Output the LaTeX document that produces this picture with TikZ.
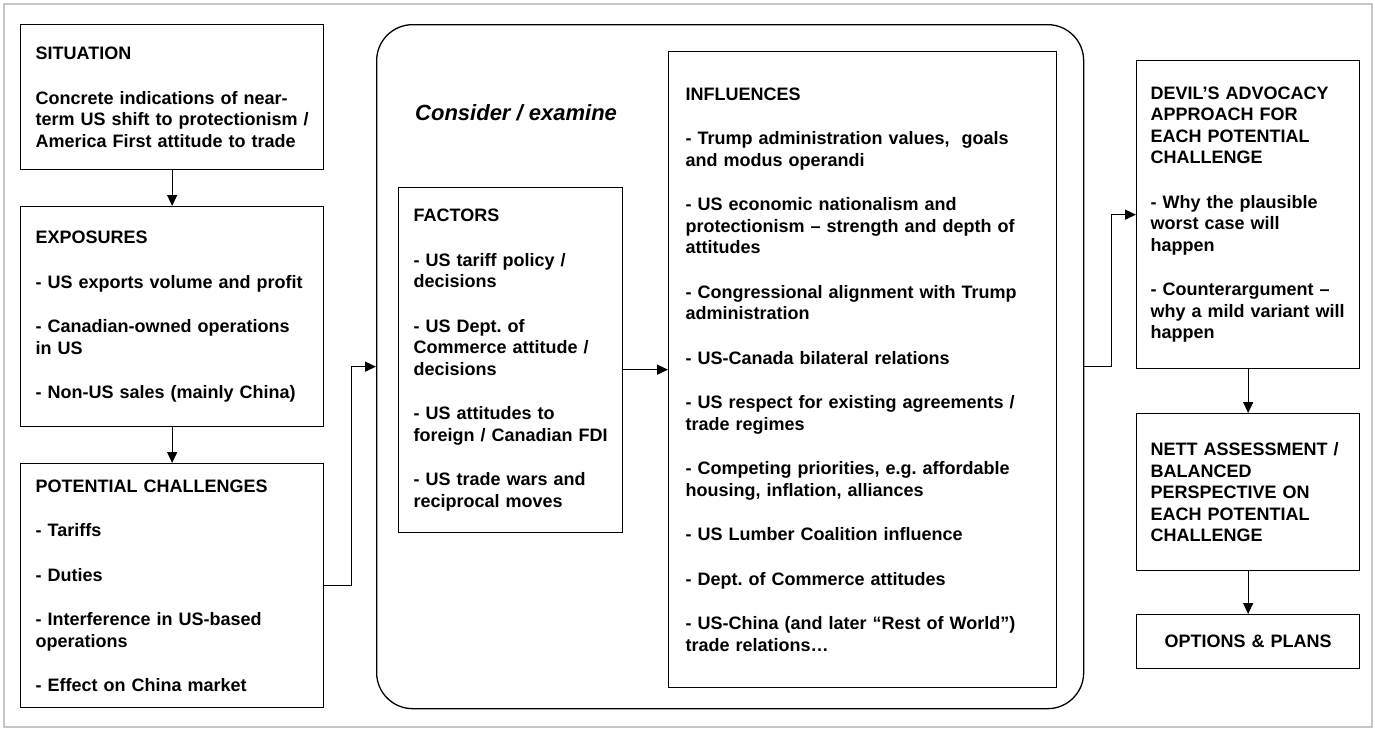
\documentclass[tikz,border=0pt]{standalone}
\usepackage{fontspec}
\setmainfont{Liberation Sans}
\usetikzlibrary{arrows.meta}
\frenchspacing
\begin{document}
\begin{tikzpicture}[x=1pt,y=-1pt,
  box/.style={draw, line width=1.3pt, rectangle, anchor=north west, align=left,
    inner xsep=14pt, inner ysep=0pt,
    font=\frenchspacing\bfseries\fontsize{18}{21.5}\selectfont},
  arr/.style={line width=1.3pt, -{Triangle[length=11pt,width=10pt]}}]
\useasboundingbox (0,0) rectangle (1375,728);
\draw[line width=1.5pt, black!22] (4,4) rectangle (1372,727);

\node[box, minimum height=145pt, text width=281pt, inner xsep=11pt] (sit) at (20,24)
 {\hspace*{4pt}SITUATION\\[23pt]
  \hspace*{4pt}Concrete indications of near-\\
  \hspace*{4pt}term US shift to protectionism /\\
  \hspace*{4pt}America First attitude to trade};

\node[box, minimum height=220pt, text width=281pt, inner xsep=11pt] (exp) at (20,206)
 {\hspace*{4pt}EXPOSURES\\[23pt]
  \hspace*{4pt}- US exports volume and profit\\[23pt]
  \hspace*{4pt}- Canadian-owned operations\\
  \hspace*{4pt}in US\\[23pt]
  \hspace*{4pt}- Non-US sales (mainly China)};

\node[box, minimum height=244pt, text width=281pt, inner xsep=11pt] (pc) at (20,463)
 {\hspace*{4pt}POTENTIAL CHALLENGES\\[23pt]
  \hspace*{4pt}- Tariffs\\[23pt]
  \hspace*{4pt}- Duties\\[23pt]
  \hspace*{4pt}- Interference in US-based\\
  \hspace*{4pt}operations\\[23pt]
  \hspace*{4pt}- Effect on China market};

\node[draw, line width=1.3pt, rounded corners=36pt, anchor=north west,
  minimum width=707pt, minimum height=684pt, inner sep=0pt] (consider) at (376,24) {};

\node[anchor=west, inner sep=0pt, font=\bfseries\itshape\fontsize{22}{26}\selectfont]
  (cex) at (415,113) {Consider / examine};

\node[box, minimum height=345pt, text width=200pt, inner xsep=12pt] (fact) at (398,187)
 {\hspace*{3pt}FACTORS\\[23pt]
  \hspace*{3pt}- US tariff policy /\\
  \hspace*{3pt}decisions\\[23pt]
  \hspace*{3pt}- US Dept. of\\
  \hspace*{3pt}Commerce attitude /\\
  \hspace*{3pt}decisions\\[23pt]
  \hspace*{3pt}- US attitudes to\\
  \hspace*{3pt}foreign / Canadian FDI\\[23pt]
  \hspace*{3pt}- US trade wars and\\
  \hspace*{3pt}reciprocal moves};

\node[box, minimum height=636pt, text width=360pt, inner xsep=14pt] (inf) at (668,51)
 {\hspace*{3pt}INFLUENCES\\[23pt]
  \hspace*{3pt}- Trump administration values,~ goals\\
  \hspace*{3pt}and modus operandi\\[23pt]
  \hspace*{3pt}- US economic nationalism and\\
  \hspace*{3pt}protectionism – strength and depth of\\
  \hspace*{3pt}attitudes\\[23pt]
  \hspace*{3pt}- Congressional alignment with Trump\\
  \hspace*{3pt}administration\\[23pt]
  \hspace*{3pt}- US-Canada bilateral relations\\[23pt]
  \hspace*{3pt}- US respect for existing agreements /\\
  \hspace*{3pt}trade regimes\\[23pt]
  \hspace*{3pt}- Competing priorities, e.g. affordable\\
  \hspace*{3pt}housing, inflation, alliances\\[23pt]
  \hspace*{3pt}- US Lumber Coalition influence\\[23pt]
  \hspace*{3pt}- Dept. of Commerce attitudes\\[23pt]
  \hspace*{3pt}- US-China (and later “Rest of World”)\\
  \hspace*{3pt}trade relations…};

\node[box, minimum height=308pt, text width=201pt, inner xsep=11pt] (dev) at (1136,60)
 {\hspace*{3pt}DEVIL’S ADVOCACY\\
  \hspace*{3pt}APPROACH FOR\\
  \hspace*{3pt}EACH POTENTIAL\\
  \hspace*{3pt}CHALLENGE\\[23pt]
  \hspace*{3pt}- Why the plausible\\
  \hspace*{3pt}worst case will\\
  \hspace*{3pt}happen\\[23pt]
  \hspace*{3pt}- Counterargument –\\
  \hspace*{3pt}why a mild variant will\\
  \hspace*{3pt}happen};

\node[box, minimum height=157pt, text width=201pt, inner xsep=11pt] (nett) at (1136,413)
 {\hspace*{3pt}NETT ASSESSMENT /\\
  \hspace*{3pt}BALANCED\\
  \hspace*{3pt}PERSPECTIVE ON\\
  \hspace*{3pt}EACH POTENTIAL\\
  \hspace*{3pt}CHALLENGE};

\node[box, minimum height=54pt, text width=201pt, inner xsep=11pt, align=center] (opt) at (1136,614)
 {OPTIONS \& PLANS};

\draw[arr] (sit.south) -- (exp.north);
\draw[arr] (exp.south) -- (pc.north);
\draw[arr] (pc.east) -- ++(27,0) |- (consider.west);
\draw[arr] (fact.east |- inf.west) -- (inf.west);
\draw[arr] (consider.east) -- ++(27,0) |- (dev.west);
\draw[arr] (dev.south) -- (nett.north);
\draw[arr] (nett.south) -- (opt.north);
\end{tikzpicture}
\end{document}
